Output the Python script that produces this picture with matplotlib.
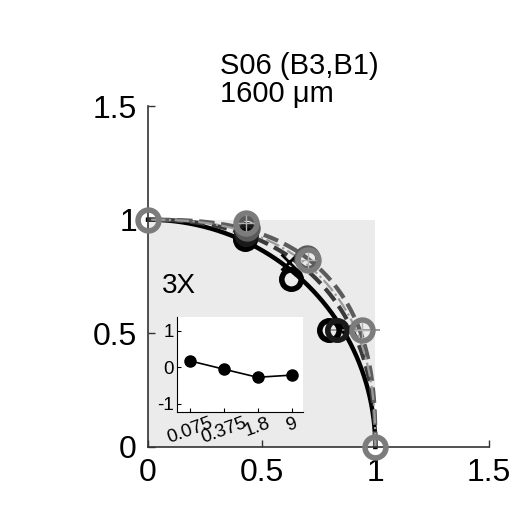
import numpy as np
import matplotlib
matplotlib.use("Agg")
import matplotlib.pyplot as plt
from matplotlib.patches import Rectangle

plt.rcParams['font.family'] = ['Liberation Sans', 'DejaVu Sans']

# ---- data ----
ticks_main = [0, 0.5, 1, 1.5]
tick_labels_main = ['0', '0.5', '1', '1.5']

# model curves: superellipse exponents (x^p + y^p = 1)
curve_exponents = [2.0, 2.3, 2.65, 2.45]
curve_colors = ['black', '#3a3a3a', '#5c5c5c', '#9a9a9a']
curve_styles = ['-', '--', '--', '-.']
curve_widths = [3.2, 3.0, 3.0, 1.6]

gray_x = [0.0, 0.430, 0.705, 0.940, 1.0]
gray_y = [1.0, 0.985, 0.824, 0.515, 0.0]
darkgray_x = [0.435, 0.700]
darkgray_y = [0.965, 0.830]
black_x = [0.427, 0.630, 0.795]
black_y = [0.915, 0.738, 0.515]
black2_x = [0.432, 0.830]
black2_y = [0.935, 0.515]
cross_x = [0.622]
cross_y = [0.812]
errbar_x = [0.940]
errbar_y = [0.515]
errbar_xerr_lo = [0.15]
errbar_xerr_hi = [0.08]

inset_x = [0.075, 0.375, 1.8, 9]
inset_labels = ['0.075', '0.375', '1.8', '9']
inset_y = [0.17, -0.06, -0.28, -0.22]
inset_yticks = [-1, 0, 1]

title_lines = ['S06 (B3,B1)', '1600 \u03bcm']
panel_label = '3X'

# ---- figure ----
fig = plt.figure(figsize=(5.13, 5.13), dpi=100)
ax = fig.add_axes([148/513, 1-447/513, (489-148)/513, (447-106)/513])
ax.set_xlim(0, 1.5)
ax.set_ylim(0, 1.5)
ax.add_patch(Rectangle((0, 0), 1, 1, facecolor='#ebebeb', edgecolor='none', zorder=0))

t = np.linspace(0, np.pi/2, 400)
for p, c, ls, lw in zip(curve_exponents, curve_colors, curve_styles, curve_widths):
    xs = np.abs(np.cos(t)) ** (2.0/p)
    ys = np.abs(np.sin(t)) ** (2.0/p)
    ax.plot(xs, ys, color=c, ls=ls, lw=lw, zorder=2, clip_on=False)

ax.errorbar(errbar_x, errbar_y, xerr=[errbar_xerr_lo, errbar_xerr_hi], fmt='none',
            ecolor='#8a8a8a', elinewidth=1.2, zorder=3)
ax.plot(black_x, black_y, 'o', ms=14, mfc='none', mec='black', mew=4, zorder=4, clip_on=False)
ax.plot(black2_x, black2_y, 'o', ms=14, mfc='none', mec='#1a1a1a', mew=4, zorder=4, clip_on=False)
ax.plot(cross_x, cross_y, 'x', ms=11, mec='black', mew=2, zorder=5)
ax.plot(darkgray_x, darkgray_y, 'o', ms=15, mfc='none', mec='#5a5a5a', mew=4, zorder=5, clip_on=False)
ax.plot(gray_x, gray_y, 'o', ms=15, mfc='none', mec='#7c7c7c', mew=4, zorder=6, clip_on=False)
ax.plot(gray_x[1:4], gray_y[1:4], '+', ms=11, mec='#b0b0b0', mew=1, zorder=7)

for s in ['top', 'right']:
    ax.spines[s].set_visible(False)
for s in ['left', 'bottom']:
    ax.spines[s].set_color('#333333')
    ax.spines[s].set_linewidth(1.2)
ax.set_xticks(ticks_main)
ax.set_xticklabels(tick_labels_main)
ax.set_yticks(ticks_main)
ax.set_yticklabels(tick_labels_main)
ax.tick_params(direction='in', length=5, width=1, colors='#333333', labelcolor='black',
               labelsize=23, pad=8)
ax.set_facecolor('none')

fig.text(220/513, 1-74/513, title_lines[0], fontsize=21, va='baseline', ha='left')
fig.text(220/513, 1-102/513, title_lines[1], fontsize=21, va='baseline', ha='left')
fig.text(162/513, 1-293/513, panel_label, fontsize=20, va='baseline', ha='left')

# ---- inset ----
ia = fig.add_axes([177/513, 1-412/513, (303-177)/513, (412-317)/513])
ia.set_xscale('log')
ia.set_xlim(0.041, 15.2)
ia.set_ylim(-1.23, 1.37)
ia.plot(inset_x, inset_y, '-o', color='black', lw=1.2, ms=8)
ia.set_xticks(inset_x)
ia.set_xticklabels(inset_labels, rotation=20, ha='center')
ia.minorticks_off()
ia.set_yticks(inset_yticks)
ia.set_yticklabels([str(v) for v in inset_yticks])
for s in ['top', 'right']:
    ia.spines[s].set_visible(False)
ia.tick_params(direction='in', length=3, labelsize=13.5, pad=2)
ia.set_facecolor('white')

fig.savefig('out.png', dpi=100)
